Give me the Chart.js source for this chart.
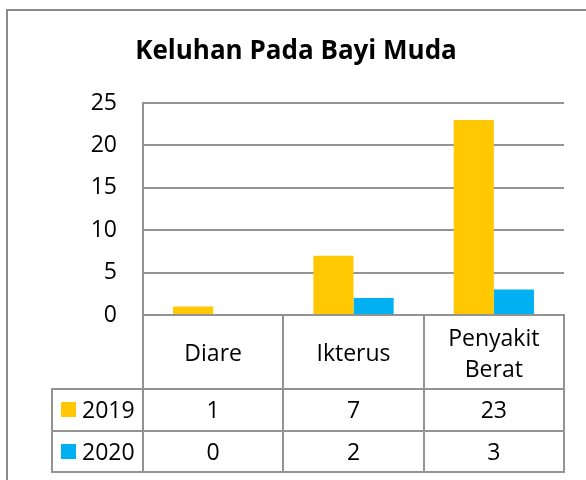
<!DOCTYPE html>
<html>
<head>
<meta charset="utf-8">
<script src="https://cdn.jsdelivr.net/npm/chart.js@4.4.1/dist/chart.umd.min.js"></script>
<style>
  html, body { margin: 0; padding: 0; background: #fff; }
  #wrap { width: 586px; height: 480px; position: relative; }
</style>
</head>
<body>
<div id="wrap"><canvas id="c" width="586" height="480"></canvas></div>
<script>
const chartTitle = "Keluhan Pada Bayi Muda";
const categories = [["Diare"], ["Ikterus"], ["Penyakit", "Berat"]];
const seriesNames = ["2019", "2020"];
const values2019 = [1, 7, 23];
const values2020 = [0, 2, 3];
const yTicks = [0, 5, 10, 15, 20, 25];

const FONT = "'Open Sans', Lato, sans-serif";
const GRID = "#939393";

const tablePlugin = {
  id: "tablePlugin",
  beforeDraw(chart) {
    const ctx = chart.ctx;
    ctx.save();
    ctx.fillStyle = "#fff";
    ctx.fillRect(0, 0, chart.width, chart.height);
    ctx.strokeStyle = "#8a8a8a";
    ctx.lineWidth = 2;
    ctx.beginPath();
    ctx.moveTo(7, chart.height + 2);
    ctx.lineTo(7, 10);
    ctx.lineTo(chart.width + 2, 10);
    ctx.stroke();
    ctx.fillStyle = "#000";
    ctx.font = "bold 26px " + FONT;
    ctx.textAlign = "center";
    ctx.textBaseline = "alphabetic";
    ctx.fillText(chartTitle, 296, 59);
    ctx.restore();
  },
  afterDraw(chart) {
    const ctx = chart.ctx;
    const xs = chart.scales.x;
    const area = chart.chartArea;
    const n = categories.length;
    const step = (xs.getPixelForValue(1) - xs.getPixelForValue(0));
    const bounds = [];
    for (let i = 0; i <= n; i++) bounds.push(xs.getPixelForValue(0) - step / 2 + i * step);
    const top = area.bottom;
    const r1 = 389, r2 = 431, r3 = 472;
    const legLeft = 52;
    ctx.save();
    ctx.strokeStyle = GRID;
    ctx.lineWidth = 2;
    ctx.lineCap = "square";
    ctx.beginPath();
    bounds.forEach((b) => {
      const x = Math.round(b);
      ctx.moveTo(x, top);
      ctx.lineTo(x, r3);
    });
    ctx.moveTo(legLeft, r1);
    ctx.lineTo(legLeft, r3);
    [r1, r2, r3].forEach(y => {
      ctx.moveTo(legLeft, y);
      ctx.lineTo(Math.round(bounds[n]), y);
    });
    ctx.stroke();

    ctx.fillStyle = "#000";
    ctx.font = "23px " + FONT;
    ctx.textAlign = "center";
    ctx.textBaseline = "alphabetic";
    categories.forEach((lines, i) => {
      const cx = xs.getPixelForValue(i);
      const lh = 31;
      const base = 361;
      lines.forEach((t, k) => {
        ctx.fillText(t, cx, base + (k - (lines.length - 1) / 2) * lh);
      });
    });
    const baselines = [418, 460];
    const boxTops = [402, 444];
    const data = [values2019, values2020];
    chart.data.datasets.forEach((ds, s) => {
      ctx.fillStyle = ds.backgroundColor;
      ctx.fillRect(61, boxTops[s], 15, 15);
      ctx.fillStyle = "#000";
      ctx.textAlign = "left";
      ctx.fillText(seriesNames[s], 82, baselines[s]);
      ctx.textAlign = "center";
      data[s].forEach((v, i) => {
        ctx.fillText(String(v), xs.getPixelForValue(i), baselines[s]);
      });
    });
    ctx.restore();
  }
};

new Chart(document.getElementById("c"), {
  type: "bar",
  data: {
    labels: categories.map(c => c.join(" ")),
    datasets: [
      { label: seriesNames[0], data: values2019, backgroundColor: "#FFC800" },
      { label: seriesNames[1], data: values2020, backgroundColor: "#00B0F0" }
    ]
  },
  options: {
    responsive: false,
    animation: false,
    devicePixelRatio: 1,
    layout: { padding: { left: 0, right: 22, top: 103, bottom: 165 } },
    datasets: { bar: { categoryPercentage: 0.572, barPercentage: 1.0 } },
    plugins: { legend: { display: false }, title: { display: false }, tooltip: { enabled: false } },
    scales: {
      x: { display: false },
      y: {
        min: 0, max: 25,
        afterFit(s) { s.width = 143; },
        afterBuildTicks(s) { s.ticks = yTicks.map(v => ({ value: v })); },
        ticks: { padding: 26, color: "#000", font: { family: FONT, size: 23 } },
        grid: { color: GRID, drawTicks: false, lineWidth: 2 },
        border: { color: GRID, width: 2 }
      }
    }
  },
  plugins: [tablePlugin]
});
</script>
</body>
</html>
